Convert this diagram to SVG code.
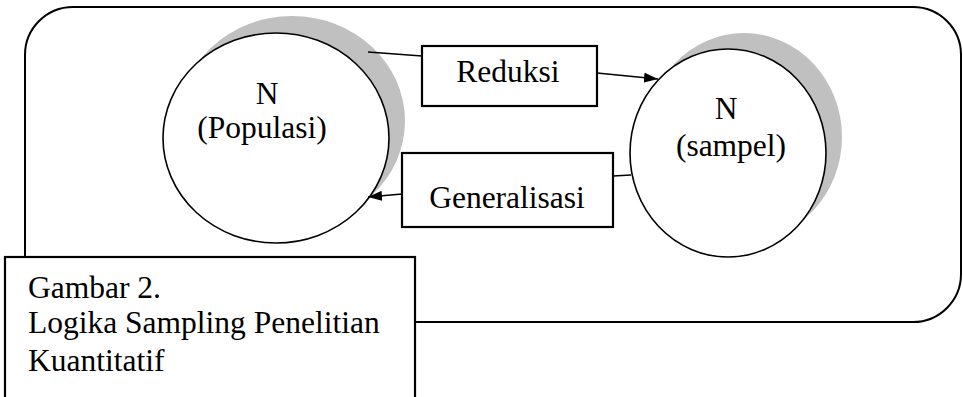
<svg xmlns="http://www.w3.org/2000/svg" width="963" height="397" viewBox="0 0 963 397">
  <style>
    .frame { fill: #ffffff; stroke: #000000; stroke-width: 2; }
    .shadow { fill: #c0c0c0; stroke: none; }
    .circle { fill: #ffffff; stroke: #000000; stroke-width: 1.6; }
    .box { fill: #ffffff; stroke: #000000; stroke-width: 2.2; }
    .link { fill: none; stroke: #000000; stroke-width: 1.5; }
    .label { font-family: "Liberation Serif", "Times New Roman", serif; font-size: 31.5px; fill: #000000; }
    .mid { text-anchor: middle; }
  </style>
  <defs>
    <marker id="arrow" viewBox="0 0 14 10" refX="14" refY="5" markerWidth="14" markerHeight="10" markerUnits="userSpaceOnUse" orient="auto">
      <path d="M0,0 L14,5 L0,10 Z" fill="#000000"/>
    </marker>
  </defs>

  <!-- outer rounded frame -->
  <rect class="frame" x="25" y="7" width="936" height="315" rx="48" ry="48"/>

  <!-- population -->
  <g id="populasi">
    <ellipse class="shadow" cx="292" cy="121" rx="113" ry="105"/>
    <ellipse class="circle" cx="276" cy="138" rx="113" ry="105"/>
    <text class="label mid" x="267" y="104">N</text>
    <text class="label mid" x="262" y="138">(Populasi)</text>
  </g>

  <!-- sample -->
  <g id="sampel">
    <ellipse class="shadow" cx="744" cy="137" rx="98" ry="104"/>
    <ellipse class="circle" cx="728" cy="153" rx="98" ry="104"/>
    <text class="label mid" x="726" y="119">N</text>
    <text class="label mid" x="731" y="156">(sampel)</text>
  </g>

  <!-- reduction label -->
  <g id="reduksi">
    <rect class="box" x="422" y="46" width="175" height="60"/>
    <text class="label mid" x="508" y="82">Reduksi</text>
  </g>

  <!-- generalisation label -->
  <g id="generalisasi">
    <rect class="box" x="402" y="153" width="211" height="74"/>
    <text class="label mid" x="507" y="208">Generalisasi</text>
  </g>

  <!-- connectors -->
  <g id="connectors">
    <line class="link" x1="368" y1="52" x2="422" y2="56"/>
    <line class="link" x1="597" y1="73" x2="658" y2="79" marker-end="url(#arrow)"/>
    <line class="link" x1="631" y1="175" x2="613" y2="176"/>
    <line class="link" x1="402" y1="194" x2="368" y2="197" marker-end="url(#arrow)"/>
  </g>

  <!-- caption -->
  <g id="caption">
    <rect class="box" x="5" y="257" width="410" height="160"/>
    <text class="label" x="28" y="298">Gambar 2.</text>
    <text class="label" x="28" y="333">Logika Sampling Penelitian</text>
    <text class="label" x="28" y="371">Kuantitatif</text>
  </g>
</svg>
